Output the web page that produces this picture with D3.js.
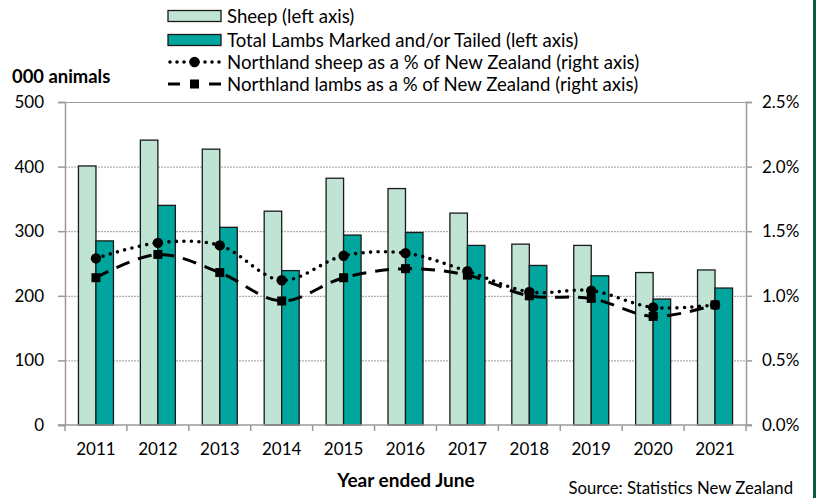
<!DOCTYPE html>
<html><head><meta charset="utf-8">
<script src="https://cdn.jsdelivr.net/npm/d3@7"></script>
<style>body{margin:0;background:#fff}svg{display:block}text{font-family:Lato,"Open Sans",sans-serif;fill:#000}</style>
</head><body><svg id="c" width="823" height="498"></svg>
<script>
const years = ["2011","2012","2013","2014","2015","2016","2017","2018","2019","2020","2021"];
const sheep = [401,441,427,331,382,366,328,280,278,236,240];
const lambs = [285,340,306,239,294,298,278,247,231,195,212];
const sheepPct = [1.29,1.41,1.39,1.12,1.31,1.33,1.19,1.03,1.04,0.91,0.93];
const lambPct = [1.14,1.32,1.18,0.96,1.14,1.21,1.16,1.00,0.98,0.84,0.93];
const leftTicks = [0,100,200,300,400,500];
const rightTicks = [0,0.5,1.0,1.5,2.0,2.5];
const legendLabels = ["Sheep (left axis)","Total Lambs Marked and/or Tailed (left axis)","Northland sheep as a % of New Zealand (right axis)","Northland lambs as a % of New Zealand (right axis)"];

const svg = d3.select("#c");
const L=65, R=746, T=102, B=425;
const x = d3.scaleBand().domain(years).range([L,R]).paddingInner(0).paddingOuter(0);
const yL = d3.scaleLinear().domain([0,500]).range([B,T]);
const yR = d3.scaleLinear().domain([0,2.5]).range([B,T]);
const bw = 17.5;
const cLight="#c0e4d4", cDark="#00a59d";

// gridlines
svg.append("g").selectAll("line").data(leftTicks.filter(d=>d>0)).join("line")
  .attr("x1",L).attr("x2",R).attr("y1",d=>yL(d)+0.5).attr("y2",d=>yL(d)+0.5)
  .attr("stroke","#9a9a9a").attr("stroke-width",1)
  .attr("stroke-dasharray",d=>d===500?null:"2,1");

// bars
const g = svg.append("g");
g.selectAll(".s").data(years).join("rect")
  .attr("x",(d)=>x(d)+x.bandwidth()/2-bw).attr("width",bw)
  .attr("y",(d,i)=>yL(sheep[i])).attr("height",(d,i)=>B-yL(sheep[i]))
  .attr("fill",cLight).attr("stroke","#1a1a1a").attr("stroke-width",1.3);
g.selectAll(".l").data(years).join("rect")
  .attr("x",(d)=>x(d)+x.bandwidth()/2).attr("width",bw)
  .attr("y",(d,i)=>yL(lambs[i])).attr("height",(d,i)=>B-yL(lambs[i]))
  .attr("fill",cDark).attr("stroke","#1a1a1a").attr("stroke-width",1.3);

// axes
const axisCol="#9a9a9a";
const gl = svg.append("g").attr("transform",`translate(${L},0)`)
  .call(d3.axisLeft(yL).tickValues(leftTicks).tickSize(7).tickPadding(14).tickFormat(d3.format("d")));
const gr = svg.append("g").attr("transform",`translate(${R},0)`)
  .call(d3.axisRight(yR).tickValues(rightTicks).tickSize(6).tickPadding(10).tickFormat(d=>d.toFixed(1)+"%"));
const gb = svg.append("g").attr("transform",`translate(0,${B})`)
  .call(d3.axisBottom(x).tickSize(0).tickPadding(18));
[gl,gr,gb].forEach(a=>{a.selectAll("path").attr("stroke",axisCol).attr("stroke-width",1.5);
  a.selectAll("line").attr("stroke",axisCol).attr("stroke-width",1.5);
  a.selectAll("text").style("font-size","17px").attr("fill","#000");});
gb.select(".domain").remove();
svg.append("line").attr("x1",L-7).attr("x2",R+6).attr("y1",B).attr("y2",B).attr("stroke",axisCol).attr("stroke-width",1.5);
// category boundary ticks
svg.append("g").selectAll("line").data(years.concat(["end"])).join("line")
  .attr("x1",(d,i)=>L+i*x.bandwidth()).attr("x2",(d,i)=>L+i*x.bandwidth())
  .attr("y1",B).attr("y2",B+6).attr("stroke",axisCol).attr("stroke-width",1.5);

// lines
const cx = d=>x(d)+x.bandwidth()/2;
const line = d3.line().curve(d3.curveCatmullRom.alpha(0.5));
svg.append("path").attr("d",line(years.map((d,i)=>[cx(d),yR(sheepPct[i])])))
  .attr("fill","none").attr("stroke","#000").attr("stroke-width",3.6)
  .attr("stroke-linecap","round").attr("stroke-dasharray","0,7.5");
svg.append("path").attr("d",line(years.map((d,i)=>[cx(d),yR(lambPct[i])])))
  .attr("fill","none").attr("stroke","#000").attr("stroke-width",3)
  .attr("stroke-dasharray","14,9");
svg.append("g").selectAll("circle").data(years).join("circle")
  .attr("cx",cx).attr("cy",(d,i)=>yR(sheepPct[i])).attr("r",5.2).attr("fill","#000");
svg.append("g").selectAll("rect").data(years).join("rect")
  .attr("x",d=>cx(d)-4.5).attr("y",(d,i)=>yR(lambPct[i])-4.5).attr("width",9).attr("height",9).attr("fill","#000");

// legend
const lg = svg.append("g");
const ly = [16,40,62,84];
const lx0=168, lx1=221, lxm=(lx0+lx1)/2;
lg.append("rect").attr("x",lx0).attr("y",ly[0]-5.5).attr("width",lx1-lx0).attr("height",11).attr("fill",cLight).attr("stroke","#1a1a1a").attr("stroke-width",1.3);
lg.append("rect").attr("x",lx0).attr("y",ly[1]-5.5).attr("width",lx1-lx0).attr("height",11).attr("fill",cDark).attr("stroke","#1a1a1a").attr("stroke-width",1.3);
lg.append("line").attr("x1",lx0+2).attr("x2",lx1).attr("y1",ly[2]).attr("y2",ly[2]).attr("stroke","#000").attr("stroke-width",3.6).attr("stroke-linecap","round").attr("stroke-dasharray","0,7");
lg.append("circle").attr("cx",lxm).attr("cy",ly[2]).attr("r",5.2).attr("fill","#000");
lg.append("line").attr("x1",lx0).attr("x2",lx1).attr("y1",ly[3]).attr("y2",ly[3]).attr("stroke","#000").attr("stroke-width",3).attr("stroke-dasharray","12,29");
lg.append("rect").attr("x",lxm-4.5).attr("y",ly[3]-4.5).attr("width",9).attr("height",9).attr("fill","#000");
lg.selectAll("text").data(legendLabels).join("text")
  .attr("x",lx1+6).attr("y",(d,i)=>ly[i]).attr("dy","0.35em").style("font-size","18.6px").text(d=>d);

// titles
svg.append("text").attr("x",12).attr("y",77).attr("dy","0.35em").style("font-size","18.4px").style("font-weight","bold").text("000 animals");
svg.append("text").attr("x",406).attr("y",480).attr("dy","0.35em").attr("text-anchor","middle").style("font-size","19px").style("font-weight","bold").text("Year ended June");
svg.append("text").attr("x",793).attr("y",488).attr("dy","0.35em").attr("text-anchor","end").style("font-size","16.7px").text("Source: Statistics New Zealand");

// right border
svg.append("rect").attr("x",813).attr("y",0).attr("width",3).attr("height",498).attr("fill","#0b5a48");
</script></body></html>
